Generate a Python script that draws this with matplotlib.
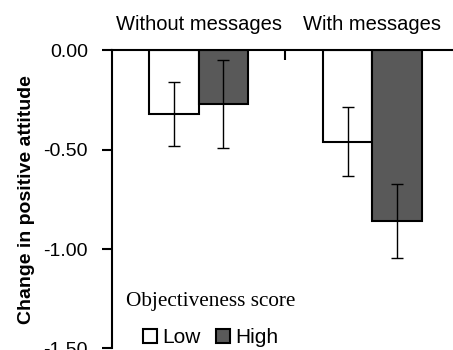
import numpy as np
import matplotlib
matplotlib.use("Agg")
import matplotlib.pyplot as plt

plt.rcParams['font.family'] = ['Liberation Sans', 'DejaVu Sans']

# Données
groups = ["Without messages", "With messages"]
series = ["Low", "High"]
low_vals = [-0.32, -0.46]
high_vals = [-0.27, -0.86]
low_err = [0.16, 0.175]
high_err = [0.22, 0.185]
yticks = [0.0, -0.5, -1.0, -1.5]

fig = plt.figure(figsize=(4.53, 3.5), dpi=100)
ax = fig.add_axes([0.2466, 0.0046, 0.767, 0.8517])

x = np.arange(len(groups))
w = 0.285
err_kw = dict(ecolor="black", elinewidth=1.0, capsize=4, capthick=1.0)
ax.bar(x - w / 2, low_vals, w, yerr=low_err, color="white", edgecolor="black",
       linewidth=1.5, label=series[0], error_kw=err_kw)
ax.bar(x + w / 2, high_vals, w, yerr=high_err, color="#595959", edgecolor="black",
       linewidth=1.5, label=series[1], error_kw=err_kw)

ax.set_xlim(-0.5, 1.5)
ax.set_ylim(-1.5, 0)
ax.set_yticks(yticks)
ax.set_yticklabels([f"{v:.2f}" for v in yticks])
ax.tick_params(axis="y", direction="out", length=7, width=1.5, pad=10, labelsize=14)

# axe des x en haut (à y = 0)
ax.xaxis.tick_top()
ax.set_xticks(x)
ax.set_xticklabels(groups)
ax.set_xticks([0.5], minor=True)
ax.tick_params(axis="x", which="major", length=0, pad=12, labelsize=14.5)
ax.tick_params(axis="x", which="minor", direction="in", length=7, width=1.5)

for s in ["right", "bottom"]:
    ax.spines[s].set_visible(False)
ax.spines["left"].set_linewidth(1.5)
ax.spines["top"].set_linewidth(1.5)

ax.set_ylabel("Change in positive attitude", fontsize=14, fontweight="bold")
ax.yaxis.set_label_coords(-0.22, 0.5)

leg = ax.legend(title="Objectiveness score", ncol=2, frameon=False,
                loc="upper left", bbox_to_anchor=(0.041, 0.188),
                prop={"family": "Liberation Sans", "size": 15},
                title_fontproperties={"family": "Liberation Serif", "size": 15.3},
                handlelength=0.65, handleheight=0.65, handletextpad=0.25,
                columnspacing=0.75, labelspacing=0.8, borderpad=0, borderaxespad=0)

fig.savefig("out.png", dpi=100)
